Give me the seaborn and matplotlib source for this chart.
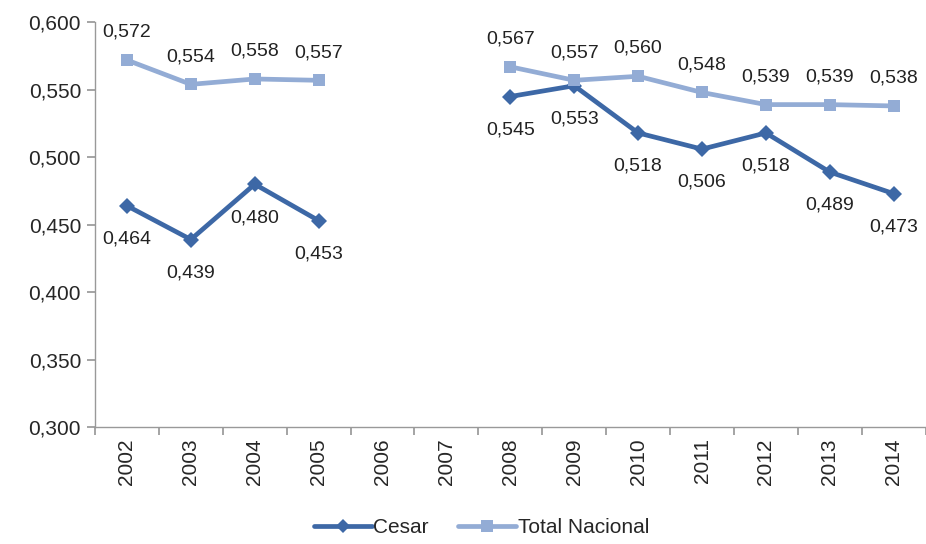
import matplotlib.pyplot as plt
import matplotlib.ticker as mticker
import numpy as np
import pandas as pd
import seaborn as sns

years = ["2002", "2003", "2004", "2005", "2006", "2007", "2008",
         "2009", "2010", "2011", "2012", "2013", "2014"]
cesar = [0.464, 0.439, 0.480, 0.453, None, None, 0.545,
         0.553, 0.518, 0.506, 0.518, 0.489, 0.473]
total_nacional = [0.572, 0.554, 0.558, 0.557, None, None, 0.567,
                  0.557, 0.560, 0.548, 0.539, 0.539, 0.538]
series_names = ["Cesar", "Total Nacional"]

DARK = "#3d68a6"
LIGHT = "#93acd5"

rows = []
for name, vals in zip(series_names, [cesar, total_nacional]):
    seg = 0
    for i, v in enumerate(vals):
        if v is None:
            seg += 1
            continue
        rows.append({"pos": i, "value": v, "serie": name, "seg": seg})
df = pd.DataFrame(rows)

sns.set_theme(style="white")
plt.rcParams["font.family"] = ["Liberation Sans", "DejaVu Sans"]

fig = plt.figure(figsize=(9.26, 5.44), dpi=100)
ax = fig.add_axes([0.1026, 0.215, 0.897, 0.744])

sns.lineplot(
    data=df, x="pos", y="value", hue="serie", style="serie",
    units="seg", estimator=None,
    palette={"Cesar": DARK, "Total Nacional": LIGHT},
    markers={"Cesar": "D", "Total Nacional": "s"},
    dashes=False, linewidth=3.4, markersize=8, markeredgewidth=0,
    ax=ax, legend=False,
)

# data labels
for i, v in enumerate(total_nacional):
    if v is not None:
        ax.annotate(f"{v:.3f}".replace(".", ","), (i, v), xytext=(0, 20),
                    textcoords="offset points", ha="center", va="center",
                    fontsize=14, color="#222222")
for i, v in enumerate(cesar):
    if v is not None:
        ax.annotate(f"{v:.3f}".replace(".", ","), (i, v), xytext=(0, -24),
                    textcoords="offset points", ha="center", va="center",
                    fontsize=14, color="#222222")

ax.set_xlim(-0.5, len(years) - 0.5)
ax.set_ylim(0.3, 0.6)
ax.set_yticks(np.arange(0.30, 0.601, 0.05))
ax.yaxis.set_major_formatter(
    mticker.FuncFormatter(lambda y, _: f"{y:.3f}".replace(".", ",")))
ax.set_xticks(np.arange(-0.5, len(years), 1.0))
ax.set_xticklabels([])
ax.set_xticks(range(len(years)), minor=True)
ax.set_xticklabels(years, minor=True, rotation=90)
ax.tick_params(axis="x", which="major", length=6, color="#999999",
               direction="out", bottom=True)
ax.tick_params(axis="x", which="minor", length=0, labelsize=15, pad=8,
               bottom=True)
ax.tick_params(axis="y", length=6, color="#999999", direction="out",
               left=True, labelsize=15, pad=4)
ax.set_xlabel("")
ax.set_ylabel("")

for side in ["top", "right"]:
    ax.spines[side].set_visible(False)
for side in ["left", "bottom"]:
    ax.spines[side].set_color("#999999")
    ax.spines[side].set_linewidth(1.0)

handles = [
    plt.Line2D([], [], color=DARK, lw=3.4, marker="D", markersize=7,
               markeredgewidth=0),
    plt.Line2D([], [], color=LIGHT, lw=3.4, marker="s", markersize=8,
               markeredgewidth=0),
]
fig.legend(handles, series_names, loc="center", bbox_to_anchor=(0.52, 0.03),
           ncol=2, frameon=False, fontsize=15, handlelength=2.8,
           handletextpad=0.05, columnspacing=1.4)

fig.savefig("out.png", dpi=100)
